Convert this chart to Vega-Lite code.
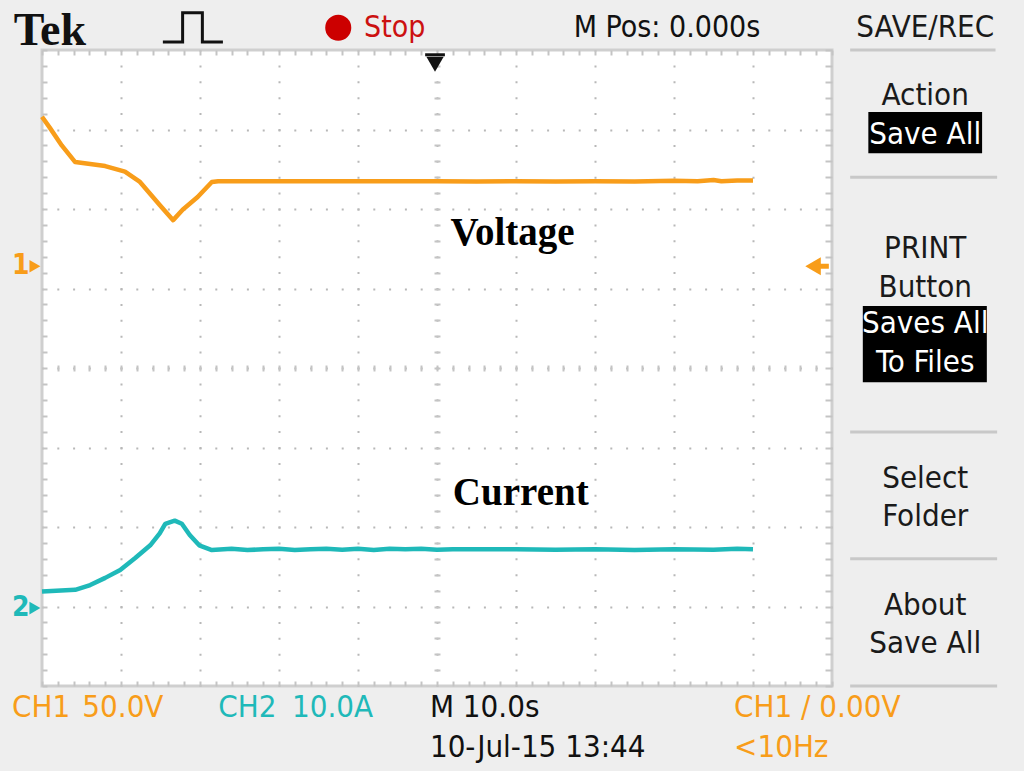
{
  "$schema": "https://vega.github.io/schema/vega-lite/v6.json",
  "width": 790,
  "height": 636,
  "autosize": {"type": "none"},
  "padding": {"left": 42, "top": 50, "right": 192, "bottom": 85},
  "background": "#eeeeee",
  "config": {
    "view": {"fill": "#ffffff", "stroke": "#cfcfcf", "strokeWidth": 3},
    "axis": {"title": null, "labels": false, "domain": false, "grid": false, "ticks": false}
  },
  "resolve": {"axis": {"x": "independent", "y": "independent"}},
  "datasets": {
    "traces": [
      {"ch": "CH1", "t": -50, "div": 3.16},
      {"ch": "CH1", "t": -49, "div": 3.02},
      {"ch": "CH1", "t": -47.5, "div": 2.8},
      {"ch": "CH1", "t": -45.8, "div": 2.59},
      {"ch": "CH1", "t": -42, "div": 2.54},
      {"ch": "CH1", "t": -39.5, "div": 2.47},
      {"ch": "CH1", "t": -37.6, "div": 2.34},
      {"ch": "CH1", "t": -35.1, "div": 2.05},
      {"ch": "CH1", "t": -33.4, "div": 1.86},
      {"ch": "CH1", "t": -32.2, "div": 1.99},
      {"ch": "CH1", "t": -30.3, "div": 2.15},
      {"ch": "CH1", "t": -28.5, "div": 2.34},
      {"ch": "CH1", "t": -27.7, "div": 2.35},
      {"ch": "CH1", "t": -10, "div": 2.35},
      {"ch": "CH1", "t": 0, "div": 2.35},
      {"ch": "CH1", "t": 5, "div": 2.345},
      {"ch": "CH1", "t": 10, "div": 2.35},
      {"ch": "CH1", "t": 15, "div": 2.345},
      {"ch": "CH1", "t": 20, "div": 2.35},
      {"ch": "CH1", "t": 25, "div": 2.345},
      {"ch": "CH1", "t": 30, "div": 2.355},
      {"ch": "CH1", "t": 33, "div": 2.35},
      {"ch": "CH1", "t": 35, "div": 2.365},
      {"ch": "CH1", "t": 36, "div": 2.35},
      {"ch": "CH1", "t": 38, "div": 2.36},
      {"ch": "CH1", "t": 40, "div": 2.36},
      {"ch": "CH2", "t": -50, "div": -2.81},
      {"ch": "CH2", "t": -45.8, "div": -2.79},
      {"ch": "CH2", "t": -43.9, "div": -2.73},
      {"ch": "CH2", "t": -42, "div": -2.64},
      {"ch": "CH2", "t": -40.1, "div": -2.54},
      {"ch": "CH2", "t": -38.2, "div": -2.39},
      {"ch": "CH2", "t": -36.3, "div": -2.23},
      {"ch": "CH2", "t": -35.1, "div": -2.08},
      {"ch": "CH2", "t": -34.4, "div": -1.96},
      {"ch": "CH2", "t": -33.2, "div": -1.92},
      {"ch": "CH2", "t": -32.3, "div": -1.96},
      {"ch": "CH2", "t": -31.3, "div": -2.1},
      {"ch": "CH2", "t": -30.1, "div": -2.23},
      {"ch": "CH2", "t": -28.5, "div": -2.29},
      {"ch": "CH2", "t": -26, "div": -2.275},
      {"ch": "CH2", "t": -24, "div": -2.29},
      {"ch": "CH2", "t": -22, "div": -2.28},
      {"ch": "CH2", "t": -20, "div": -2.275},
      {"ch": "CH2", "t": -18, "div": -2.29},
      {"ch": "CH2", "t": -16, "div": -2.28},
      {"ch": "CH2", "t": -14, "div": -2.275},
      {"ch": "CH2", "t": -12, "div": -2.285},
      {"ch": "CH2", "t": -10, "div": -2.275},
      {"ch": "CH2", "t": -8, "div": -2.29},
      {"ch": "CH2", "t": -6, "div": -2.275},
      {"ch": "CH2", "t": -4, "div": -2.28},
      {"ch": "CH2", "t": -2, "div": -2.275},
      {"ch": "CH2", "t": 0, "div": -2.285},
      {"ch": "CH2", "t": 2, "div": -2.28},
      {"ch": "CH2", "t": 10, "div": -2.28},
      {"ch": "CH2", "t": 15, "div": -2.285},
      {"ch": "CH2", "t": 20, "div": -2.28},
      {"ch": "CH2", "t": 25, "div": -2.29},
      {"ch": "CH2", "t": 30, "div": -2.28},
      {"ch": "CH2", "t": 35, "div": -2.285},
      {"ch": "CH2", "t": 38, "div": -2.275},
      {"ch": "CH2", "t": 40, "div": -2.28}
    ],
    "footer": [
      {"text": "CH1", "ch": "CH1", "t": -53.8, "div": -4.39},
      {"text": "50.0V", "ch": "CH1", "t": -44.9, "div": -4.39},
      {"text": "CH2", "ch": "CH2", "t": -27.7, "div": -4.39},
      {"text": "10.0A", "ch": "CH2", "t": -18.35, "div": -4.39},
      {"text": "M 10.0s", "ch": "K", "t": -0.9, "div": -4.39},
      {"text": "10-Jul-15 13:44", "ch": "K", "t": -0.9, "div": -4.89},
      {"text": "CH1 / 0.00V", "ch": "CH1", "t": 37.6, "div": -4.39},
      {"text": "<10Hz", "ch": "CH1", "t": 37.6, "div": -4.89}
    ],
    "header": [
      {"text": "Stop", "ch": "RED", "t": -9.24, "div": 4.16},
      {"text": "M Pos: 0.000s", "ch": "K", "t": 17.3, "div": 4.16}
    ],
    "menu": [
      {"text": "SAVE/REC", "t": 61.8, "div": 4.16},
      {"text": "Action", "t": 61.8, "div": 3.31},
      {"text": "PRINT", "t": 61.8, "div": 1.38},
      {"text": "Button", "t": 61.8, "div": 0.89},
      {"text": "Select", "t": 61.8, "div": -1.51},
      {"text": "Folder", "t": 61.8, "div": -1.99},
      {"text": "About", "t": 61.8, "div": -3.11},
      {"text": "Save All", "t": 61.8, "div": -3.58}
    ],
    "menuInv": [
      {"text": "Save All", "t": 61.8, "div": 2.82},
      {"text": "Saves All", "t": 61.8, "div": 0.44},
      {"text": "To Files", "t": 61.8, "div": -0.05}
    ],
    "boxes": [
      {"t": 54.6, "t2": 69.0, "div": 3.22, "div2": 2.7},
      {"t": 53.9, "t2": 69.6, "div": 0.78, "div2": -0.18}
    ],
    "separators": [
      {"t": 52.3, "t2": 70.7, "div": 4.0},
      {"t": 52.3, "t2": 70.9, "div": 2.4},
      {"t": 52.3, "t2": 70.9, "div": -0.805},
      {"t": 52.3, "t2": 70.9, "div": -2.4},
      {"t": 52.3, "t2": 70.9, "div": -4.0}
    ],
    "traceLabels": [
      {"text": "Voltage", "t": 9.56, "div": 1.547},
      {"text": "Current", "t": 10.6, "div": -1.72}
    ],
    "tek": [{"text": "Tek", "t": -49.0, "div": 4.06}],
    "stopDot": [{"t": -12.5, "div": 4.28}],
    "pulse": [
      {"i": 1, "t": -34.7, "div": 4.1},
      {"i": 2, "t": -32.2, "div": 4.1},
      {"i": 3, "t": -32.2, "div": 4.47},
      {"i": 4, "t": -29.7, "div": 4.47},
      {"i": 5, "t": -29.7, "div": 4.1},
      {"i": 6, "t": -27.1, "div": 4.1}
    ],
    "markers": [
      {"text": "1", "ch": "CH1", "t": -53.8, "div": 1.28},
      {"text": "2", "ch": "CH2", "t": -53.8, "div": -3.02}
    ],
    "markerArrows": [
      {"ch": "CH1", "t": -50.9, "div": 1.28},
      {"ch": "CH2", "t": -50.9, "div": -3.02}
    ],
    "trigLevel": [{"ch": "CH1", "t": 47.6, "div": 1.28}],
    "trigLevelTail": [{"ch": "CH1", "t": 48.3, "t2": 49.6, "div": 1.28}],
    "trigPos": [{"ch": "K", "t": -0.25, "div": 3.82}],
    "trigPosBar": [{"ch": "K", "t": -1.5, "t2": 1.0, "div": 3.94}]
  },
  "layer": [
    {
      "data": {"name": "traces"},
      "mark": {"type": "line", "strokeWidth": 4.5, "strokeJoin": "round"},
      "encoding": {
        "x": {"field": "t", "type": "quantitative", "scale": {"domain": [-50, 50], "nice": false, "zero": false},
          "axis": {"orient": "bottom", "values": [-40, -30, -20, -10, 0, 10, 20, 30, 40], "grid": true, "gridColor": "#b8b8b8", "gridWidth": 2, "gridDash": [2, 13.9], "gridDashOffset": 1, "gridOpacity": 1}},
        "y": {"field": "div", "type": "quantitative", "scale": {"domain": [-4, 4], "nice": false, "zero": false},
          "axis": {"orient": "left", "values": [-3, -2, -1, 0, 1, 2, 3], "grid": true, "gridColor": "#b8b8b8", "gridWidth": 2, "gridDash": [2, 13.8], "gridDashOffset": 1, "gridOpacity": 1}},
        "color": {"field": "ch", "type": "nominal", "scale": {"domain": ["CH1", "CH2", "K", "RED"], "range": ["#f89d1a", "#1fb9b9", "#111111", "#cc1111"]}, "legend": null}
      }
    },
    {
      "data": {"name": "footer"},
      "mark": {"type": "text", "align": "left", "baseline": "alphabetic", "font": "Liberation Sans Narrow, DejaVu Sans Condensed, Liberation Sans", "fontSize": 31},
      "encoding": {
        "x": {"field": "t", "type": "quantitative", "scale": {"domain": [-50, 50], "nice": false, "zero": false},
          "axis": {"orient": "bottom", "offset": -5, "ticks": true, "tickSize": 5, "tickWidth": 2, "tickColor": "#c4c4c4",
            "values": [-50,-48,-46,-44,-42,-40,-38,-36,-34,-32,-30,-28,-26,-24,-22,-20,-18,-16,-14,-12,-10,-8,-6,-4,-2,0,2,4,6,8,10,12,14,16,18,20,22,24,26,28,30,32,34,36,38,40,42,44,46,48,50]}},
        "y": {"field": "div", "type": "quantitative", "scale": {"domain": [-4, 4], "nice": false, "zero": false},
          "axis": {"orient": "left", "offset": -5, "ticks": true, "tickSize": 5, "tickWidth": 2, "tickColor": "#c4c4c4",
            "values": [-4,-3.8,-3.6,-3.4,-3.2,-3,-2.8,-2.6,-2.4,-2.2,-2,-1.8,-1.6,-1.4,-1.2,-1,-0.8,-0.6,-0.4,-0.2,0,0.2,0.4,0.6,0.8,1,1.2,1.4,1.6,1.8,2,2.2,2.4,2.6,2.8,3,3.2,3.4,3.6,3.8,4]}},
        "text": {"field": "text"},
        "color": {"field": "ch", "type": "nominal", "scale": {"domain": ["CH1", "CH2", "K", "RED"], "range": ["#f89d1a", "#1fb9b9", "#111111", "#cc1111"]}, "legend": null}
      }
    },
    {
      "data": {"name": "header"},
      "mark": {"type": "text", "align": "left", "baseline": "alphabetic", "font": "Liberation Sans Narrow, DejaVu Sans Condensed, Liberation Sans", "fontSize": 30},
      "encoding": {
        "x": {"field": "t", "type": "quantitative", "scale": {"domain": [-50, 50], "nice": false, "zero": false},
          "axis": {"orient": "top", "offset": -5, "ticks": true, "tickSize": 5, "tickWidth": 2, "tickColor": "#c4c4c4",
            "values": [-50,-48,-46,-44,-42,-40,-38,-36,-34,-32,-30,-28,-26,-24,-22,-20,-18,-16,-14,-12,-10,-8,-6,-4,-2,0,2,4,6,8,10,12,14,16,18,20,22,24,26,28,30,32,34,36,38,40,42,44,46,48,50]}},
        "y": {"field": "div", "type": "quantitative", "scale": {"domain": [-4, 4], "nice": false, "zero": false},
          "axis": {"orient": "right", "offset": -7, "ticks": true, "tickSize": 7, "tickWidth": 2, "tickColor": "#c4c4c4",
            "values": [-4,-3.8,-3.6,-3.4,-3.2,-3,-2.8,-2.6,-2.4,-2.2,-2,-1.8,-1.6,-1.4,-1.2,-1,-0.8,-0.6,-0.4,-0.2,0,0.2,0.4,0.6,0.8,1,1.2,1.4,1.6,1.8,2,2.2,2.4,2.6,2.8,3,3.2,3.4,3.6,3.8,4]}},
        "text": {"field": "text"},
        "color": {"field": "ch", "type": "nominal", "scale": {"domain": ["CH1", "CH2", "K", "RED"], "range": ["#f89d1a", "#1fb9b9", "#111111", "#cc1111"]}, "legend": null}
      }
    },
    {
      "data": {"name": "menu"},
      "mark": {"type": "text", "align": "center", "baseline": "alphabetic", "font": "Liberation Sans Narrow, DejaVu Sans Condensed, Liberation Sans", "fontSize": 31, "color": "#1a1a1a"},
      "encoding": {
        "x": {"field": "t", "type": "quantitative", "scale": {"domain": [-50, 50], "nice": false, "zero": false},
          "axis": {"orient": "bottom", "offset": -321, "ticks": true, "tickSize": 6, "tickWidth": 2, "tickColor": "#c4c4c4",
            "values": [-48,-46,-44,-42,-40,-38,-36,-34,-32,-30,-28,-26,-24,-22,-20,-18,-16,-14,-12,-10,-8,-6,-4,-2,0,2,4,6,8,10,12,14,16,18,20,22,24,26,28,30,32,34,36,38,40,42,44,46,48]}},
        "y": {"field": "div", "type": "quantitative", "scale": {"domain": [-4, 4], "nice": false, "zero": false},
          "axis": {"orient": "left", "offset": -398, "ticks": true, "tickSize": 6, "tickWidth": 2, "tickColor": "#c4c4c4",
            "values": [-3.8,-3.6,-3.4,-3.2,-3,-2.8,-2.6,-2.4,-2.2,-2,-1.8,-1.6,-1.4,-1.2,-1,-0.8,-0.6,-0.4,-0.2,0,0.2,0.4,0.6,0.8,1,1.2,1.4,1.6,1.8,2,2.2,2.4,2.6,2.8,3,3.2,3.4,3.6,3.8]}},
        "text": {"field": "text"}
      }
    },
    {
      "data": {"name": "boxes"},
      "mark": {"type": "rect", "color": "#000000"},
      "encoding": {
        "x": {"field": "t", "type": "quantitative", "axis": null},
        "x2": {"field": "t2"},
        "y": {"field": "div", "type": "quantitative", "axis": null},
        "y2": {"field": "div2"}
      }
    },
    {
      "data": {"name": "menuInv"},
      "mark": {"type": "text", "align": "center", "baseline": "alphabetic", "font": "Liberation Sans Narrow, DejaVu Sans Condensed, Liberation Sans", "fontSize": 31, "color": "#ffffff"},
      "encoding": {
        "x": {"field": "t", "type": "quantitative", "axis": null},
        "y": {"field": "div", "type": "quantitative", "axis": null},
        "text": {"field": "text"}
      }
    },
    {
      "data": {"name": "separators"},
      "mark": {"type": "rule", "color": "#c8c8c8", "strokeWidth": 3},
      "encoding": {
        "x": {"field": "t", "type": "quantitative", "axis": null},
        "x2": {"field": "t2"},
        "y": {"field": "div", "type": "quantitative", "axis": null}
      }
    },
    {
      "data": {"name": "traceLabels"},
      "mark": {"type": "text", "align": "center", "baseline": "alphabetic", "font": "Liberation Serif", "fontWeight": "bold", "fontSize": 39, "color": "#000000"},
      "encoding": {
        "x": {"field": "t", "type": "quantitative", "axis": null},
        "y": {"field": "div", "type": "quantitative", "axis": null},
        "text": {"field": "text"}
      }
    },
    {
      "data": {"name": "tek"},
      "mark": {"type": "text", "align": "center", "baseline": "alphabetic", "font": "Liberation Serif", "fontWeight": "bold", "fontSize": 46, "color": "#111111"},
      "encoding": {
        "x": {"field": "t", "type": "quantitative", "axis": null},
        "y": {"field": "div", "type": "quantitative", "axis": null},
        "text": {"field": "text"}
      }
    },
    {
      "data": {"name": "stopDot"},
      "mark": {"type": "point", "filled": true, "size": 680, "color": "#cc0000", "opacity": 1},
      "encoding": {
        "x": {"field": "t", "type": "quantitative", "axis": null},
        "y": {"field": "div", "type": "quantitative", "axis": null}
      }
    },
    {
      "data": {"name": "pulse"},
      "mark": {"type": "line", "color": "#111111", "strokeWidth": 3},
      "encoding": {
        "x": {"field": "t", "type": "quantitative", "axis": null},
        "y": {"field": "div", "type": "quantitative", "axis": null},
        "order": {"field": "i", "type": "quantitative"}
      }
    },
    {
      "data": {"name": "markers"},
      "mark": {"type": "text", "align": "left", "baseline": "middle", "font": "Liberation Sans Narrow, DejaVu Sans Condensed, Liberation Sans", "fontSize": 28, "fontWeight": "bold"},
      "encoding": {
        "x": {"field": "t", "type": "quantitative", "axis": null},
        "y": {"field": "div", "type": "quantitative", "axis": null},
        "text": {"field": "text"},
        "color": {"field": "ch", "type": "nominal", "scale": {"domain": ["CH1", "CH2", "K", "RED"], "range": ["#f89d1a", "#1fb9b9", "#111111", "#cc1111"]}, "legend": null}
      }
    },
    {
      "data": {"name": "markerArrows"},
      "mark": {"type": "point", "shape": "triangle-right", "filled": true, "size": 160, "opacity": 1},
      "encoding": {
        "x": {"field": "t", "type": "quantitative", "axis": null},
        "y": {"field": "div", "type": "quantitative", "axis": null},
        "color": {"field": "ch", "type": "nominal", "scale": {"domain": ["CH1", "CH2", "K", "RED"], "range": ["#f89d1a", "#1fb9b9", "#111111", "#cc1111"]}, "legend": null}
      }
    },
    {
      "data": {"name": "trigLevel"},
      "mark": {"type": "point", "shape": "triangle-left", "filled": true, "size": 320, "opacity": 1},
      "encoding": {
        "x": {"field": "t", "type": "quantitative", "axis": null},
        "y": {"field": "div", "type": "quantitative", "axis": null},
        "color": {"field": "ch", "type": "nominal", "scale": {"domain": ["CH1", "CH2", "K", "RED"], "range": ["#f89d1a", "#1fb9b9", "#111111", "#cc1111"]}, "legend": null}
      }
    },
    {
      "data": {"name": "trigLevelTail"},
      "mark": {"type": "rule", "strokeWidth": 5},
      "encoding": {
        "x": {"field": "t", "type": "quantitative", "axis": null},
        "x2": {"field": "t2"},
        "y": {"field": "div", "type": "quantitative", "axis": null},
        "color": {"field": "ch", "type": "nominal", "scale": {"domain": ["CH1", "CH2", "K", "RED"], "range": ["#f89d1a", "#1fb9b9", "#111111", "#cc1111"]}, "legend": null}
      }
    },
    {
      "data": {"name": "trigPos"},
      "mark": {"type": "point", "shape": "triangle-down", "filled": true, "size": 300, "opacity": 1},
      "encoding": {
        "x": {"field": "t", "type": "quantitative", "axis": null},
        "y": {"field": "div", "type": "quantitative", "axis": null},
        "color": {"field": "ch", "type": "nominal", "scale": {"domain": ["CH1", "CH2", "K", "RED"], "range": ["#f89d1a", "#1fb9b9", "#111111", "#cc1111"]}, "legend": null}
      }
    },
    {
      "data": {"name": "trigPosBar"},
      "mark": {"type": "rule", "strokeWidth": 3},
      "encoding": {
        "x": {"field": "t", "type": "quantitative", "axis": null},
        "x2": {"field": "t2"},
        "y": {"field": "div", "type": "quantitative", "axis": null},
        "color": {"field": "ch", "type": "nominal", "scale": {"domain": ["CH1", "CH2", "K", "RED"], "range": ["#f89d1a", "#1fb9b9", "#111111", "#cc1111"]}, "legend": null}
      }
    }
  ]
}
